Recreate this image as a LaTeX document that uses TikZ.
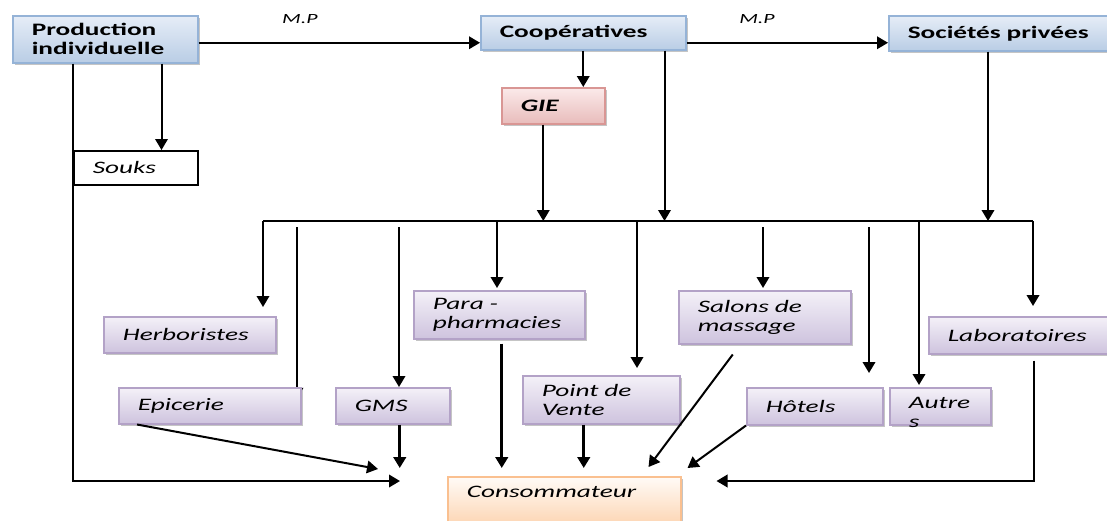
\documentclass[tikz,border=0pt]{standalone}
\usepackage{fontspec}
\setmainfont{Carlito}[FakeStretch=1.56]
\usetikzlibrary{arrows.meta,shadows,backgrounds}

\definecolor{blueline}{HTML}{95B3D7}
\definecolor{bluetop}{HTML}{E6EDF7}
\definecolor{bluebot}{HTML}{B9CDE5}
\definecolor{violine}{HTML}{B3A2C7}
\definecolor{viotop}{HTML}{F4F1F8}
\definecolor{viobot}{HTML}{CEC3DE}
\definecolor{pinkline}{HTML}{D99694}
\definecolor{pinktop}{HTML}{FBEAEA}
\definecolor{pinkbot}{HTML}{E8BCBB}
\definecolor{orangeline}{HTML}{FAC090}
\definecolor{orangetop}{HTML}{FFFBF7}
\definecolor{orangebot}{HTML}{FCCFA8}

\newcommand{\boxfont}{\fontsize{17.5}{19}\selectfont}

\tikzset{
  base/.style={anchor=north west, align=left, inner xsep=19pt, inner ysep=2pt, line width=1.5pt},
  shadowed/.style={base, drop shadow={shadow xshift=2.5pt, shadow yshift=-2.5pt, fill=black!45, opacity=.5}},
  bluebox/.style={shadowed, draw=blueline, top color=bluetop, bottom color=bluebot, font=\boxfont\bfseries},
  violetbox/.style={shadowed, draw=violine, top color=viotop, bottom color=viobot, font=\boxfont\itshape},
  pinkbox/.style={shadowed, draw=pinkline, top color=pinktop, bottom color=pinkbot, font=\boxfont\bfseries\itshape},
  orangebox/.style={shadowed, draw=orangeline, top color=orangetop, bottom color=orangebot, font=\boxfont\itshape},
  soukbox/.style={base, draw=black, fill=white, font=\boxfont\itshape},
  mplabel/.style={above=18pt, inner sep=0pt, font=\fontsize{14}{16}\selectfont\itshape},
  arr/.style={line width=2pt, -{Triangle[length=11pt,width=12.5pt]}},
  arrb/.style={arr, line width=2.8pt}
}

\begin{document}
\begin{tikzpicture}[x=1pt, y=-1pt]
		
		\useasboundingbox (0,0) rectangle (1107,520);
		
		%Suppliers
		\node[bluebox, text width=147pt, minimum height=47pt] (prod) at (12,15) {Production\\individuelle};
		\node[bluebox, text width=167pt, minimum height=34pt] (coop) at (480,15) {Coopératives};
		\node[bluebox, text width=192pt, minimum height=35pt] (soc) at (888,15) {Sociétés privées};
		\node[pinkbox, text width=65pt, minimum height=36pt] (gie) at (501,87) {GIE};
		\node[soukbox, text width=86pt, minimum height=34pt] (souks) at (73,150) {Souks};
		
		%Sales channels
		\node[violetbox, text width=134pt, minimum height=36pt] (herb) at (103,316) {Herboristes};
		\node[violetbox, text width=144pt, minimum height=36pt] (epic) at (118,387) {Epicerie};
		\node[violetbox, text width=76pt, minimum height=36pt] (gms) at (335,387) {GMS};
		\node[violetbox, text width=133pt, minimum height=48pt] (para) at (413,290) {Para -\\pharmacies};
		\node[violetbox, text width=119pt, minimum height=48pt] (pdv) at (522,375) {Point de\\Vente};
		\node[violetbox, text width=134pt, minimum height=53pt] (sal) at (678,290) {Salons de\\massage};
		\node[violetbox, text width=98pt, minimum height=37pt] (hot) at (746,387) {Hôtels};
		\node[violetbox, text width=63pt, text height=19pt, text depth=14pt] (aut) at (889,387) {Autre\\s};
		\node[violetbox, text width=172pt, minimum height=37pt] (lab) at (928,316) {Laboratoires};
		\node[orangebox, text width=195pt, text height=19pt, text depth=33pt] (cons) at (447,476) {Consommateur};
		
		%Marking coordinates of the distribution line
		\coordinate (busL) at (263,221);
		\coordinate (busR) at (1033,221);
		\coordinate (tPara) at (497,221);
		\coordinate (tPdv) at (637,221);
		\coordinate (tAut) at (919,221);
		\coordinate (fEpic) at (297,227);
		\coordinate (fGms) at (399,227);
		\coordinate (fSal) at (763,227);
		\coordinate (fHot) at (869,227);
		
		%Raw material
		\draw[arr] ([yshift=-10pt]coop.west -| prod.east) -- node[mplabel, pos=.36] {M.P} ([yshift=-10pt]coop.west);
		\draw[arr] ([yshift=-10pt]coop.east) -- node[mplabel, pos=.35] {M.P} ([yshift=-10pt]coop.east -| soc.west);
		
		%Top flows
		\draw[arr] ([xshift=-37pt]prod.south east) -- ([xshift=-37pt]prod.south east |- souks.north);
		\draw[arr] ([xshift=61pt]prod.south west) |- ([xshift=-47pt,yshift=-5pt]cons.north west);
		\draw[arr] (coop.south) -- (coop.south |- gie.north);
		\draw[arr] ([xshift=-10pt]gie.south) -- ([xshift=-10pt]gie.south |- busL);
		\draw[arr] ([xshift=-22pt]coop.south east) -- ([xshift=-22pt]coop.south east |- busL);
		\draw[arr] ([xshift=100pt]soc.south west) -- ([xshift=100pt]soc.south west |- busL);
		
		%Distribution line and drops
		\draw[line width=2pt] (busL) -- (busR);
		\draw[arr, shorten >=9pt] (busL) -- (busL |- herb.north);
		\draw[arr, shorten >=2pt] (tPara) -- (tPara |- para.north);
		\draw[arr, shorten >=7pt] (tPdv) -- (tPdv |- pdv.north);
		\draw[arr, shorten >=2pt] (tAut) -- (tAut |- aut.north);
		\draw[arr, shorten >=10pt] (busR) -- (busR |- lab.north);
		\draw[arr] (fGms) -- (fGms |- gms.north);
		\draw[arr, shorten >=2pt] (fSal) -- (fSal |- sal.north);
		\draw[arr, shorten >=14pt] (fHot) -- (fHot |- hot.north);
		\begin{scope}[on background layer]
			\draw[arr, shorten >=7pt] (fEpic) -- (fEpic |- epic.center);
		\end{scope}
		
		%Flows to the consumer
		\draw[arr] ([xshift=19pt]epic.south west) -- ([xshift=-69pt,yshift=7pt]cons.north west);
		\draw[arrb, shorten >=8pt] ([xshift=7pt]gms.south) -- ([xshift=7pt]gms.south |- cons.north);
		\draw[arrb, shorten <=4pt, shorten >=8pt] ([xshift=2.5pt]para.south) -- ([xshift=2.5pt]para.south |- cons.north);
		\draw[arrb, shorten >=8pt] ([xshift=-17.5pt]pdv.south) -- ([xshift=-17.5pt]pdv.south |- cons.north);
		\draw[arr] ([xshift=-32pt,yshift=-10pt]sal.south) -- ([xshift=-33pt,yshift=9pt]cons.north east);
		\draw[arr] (hot.south west) -- ([xshift=6pt,yshift=8pt]cons.north east);
		\draw[arr, shorten <=6pt] (lab.south) |- ([xshift=35pt,yshift=-5pt]cons.north east);
		
	\end{tikzpicture}
\end{document}
